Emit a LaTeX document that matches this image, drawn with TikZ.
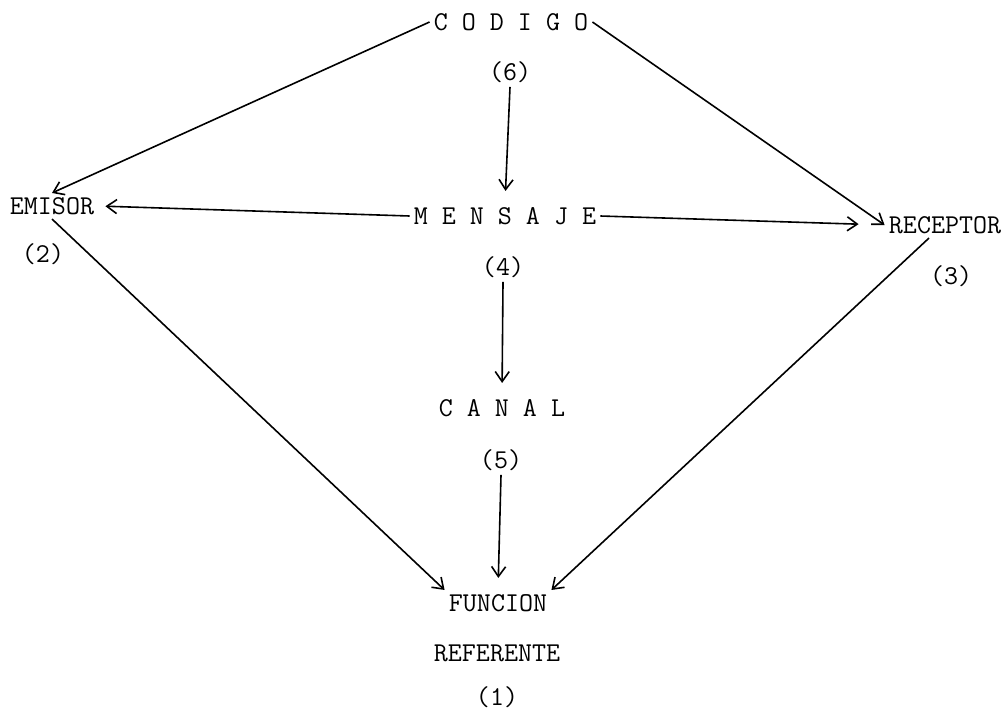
\documentclass[tikz,border=0pt]{standalone}
\usepackage{fontspec}
\usepackage{tikz}
\usetikzlibrary{arrows.meta}

\begin{document}
\begin{tikzpicture}[>={Straight Barb[length=5pt,width=7pt]},x=0.5pt,y=-0.5pt,
  every node/.style={font=\ttfamily\fontsize{13.6}{16}\selectfont}]
\tikzset{word/.style={inner sep=2pt},
  link/.style={->,line width=0.8pt},
  vlink/.style={link,shorten >=6pt}}
\useasboundingbox (0,0) rectangle (1004,712);
\node[word] (codigo) at (511,22) {C O D I G O};
\node[word] (n6) at (510,72) {(6)};
\node[word] (emisor) at (52,206) {EMISOR};
\node[word] (n2) at (43,254) {(2)};
\node[word] (mensaje) at (505,216) {M E N S A J E};
\node[word] (n4) at (503,267) {(4)};
\node[word] (receptor) at (945,225) {RECEPTOR};
\node[word] (n3) at (951,276) {(3)};
\node[word] (canal) at (502,408) {C A N A L};
\node[word] (n5) at (501,460) {(5)};
\node[word] (funcion) at (498,603) {FUNCION};
\node[word] (referente) at (497,653) {REFERENTE};
\node[word] (n1) at (497,697) {(1)};
% codigo
\draw[link] (codigo.west)--(emisor.north);
\draw[link] (codigo.east)--(receptor.west);
\draw[vlink] (n6.south)--(mensaje.north);
% mensaje
\draw[link,shorten >=3.5pt] (mensaje.west)--(emisor.east);
\draw[link,shorten >=13pt] (mensaje.east)--(receptor.west);
\draw[vlink] (n4.south)--(canal.north);
% funcion referente
\draw[vlink] (n5.south)--(funcion.north);
\draw[link] (emisor.south)--(funcion.north west);
\draw[link] ([xshift=-8pt]receptor.south)--(funcion.north east);
\end{tikzpicture}
\end{document}
